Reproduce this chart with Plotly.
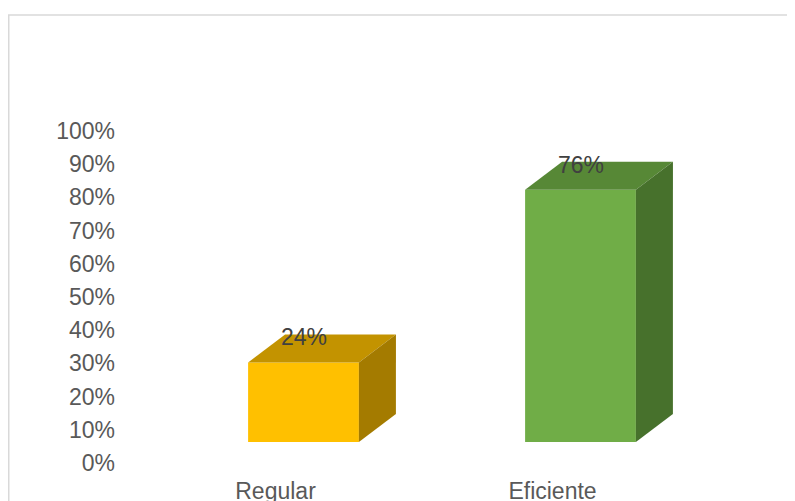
import plotly.graph_objects as go

categories = ["Regular", "Eficiente"]
values = [0.24, 0.76]
value_labels = ["24%", "76%"]

front_colors = ["#FFC000", "#70AD47"]
top_colors = ["#C39300", "#578836"]
side_colors = ["#A47B00", "#47712C"]

# style constants (3D look)
FLOOR = 0.063      # front face sits above the floor
HALF_W = 0.2       # half bar width in category units
DX = 0.1336        # depth offset in x units
DY = 0.0843        # depth offset in y units

fig = go.Figure()
xs = list(range(len(categories)))

fig.add_trace(go.Bar(
    x=xs, y=values, base=[FLOOR] * len(values), width=2 * HALF_W,
    marker=dict(color=front_colors, line=dict(width=0)),
    hoverinfo="skip", showlegend=False,
))

for i, v in enumerate(values):
    x0, x1 = i - HALF_W, i + HALF_W
    top = FLOOR + v
    # top face
    fig.add_trace(go.Scatter(
        x=[x0, x1, x1 + DX, x0 + DX, x0],
        y=[top, top, top + DY, top + DY, top],
        fill="toself", fillcolor=top_colors[i], mode="lines",
        line=dict(width=0, color=top_colors[i]), hoverinfo="skip", showlegend=False,
    ))
    # side face
    fig.add_trace(go.Scatter(
        x=[x1, x1 + DX, x1 + DX, x1, x1],
        y=[FLOOR, FLOOR + DY, top + DY, top, FLOOR],
        fill="toself", fillcolor=side_colors[i], mode="lines",
        line=dict(width=0, color=side_colors[i]), hoverinfo="skip", showlegend=False,
    ))

annotations = [
    dict(x=i, y=FLOOR + v + DY, xref="x", yref="y", text=lab, showarrow=False,
         xanchor="center", yanchor="middle", yshift=-3,
         font=dict(family="Liberation Sans", size=23, color="#404040"))
    for i, (v, lab) in enumerate(zip(values, value_labels))
]

L, R, T, B = 108, 35, 123, 46
W, H = 795, 501
pw = W - L - R
ph = H - T - B
C0 = 295.5   # pixel of first category centre
UNIT = 277.0  # pixels per category

fig.update_layout(
    width=W, height=H,
    margin=dict(l=L, r=R, t=T, b=B, autoexpand=False),
    paper_bgcolor="white", plot_bgcolor="white",
    font=dict(family="Liberation Sans", size=23, color="#595959"),
    xaxis=dict(
        range=[(L - C0) / UNIT, (L + pw - C0) / UNIT],
        tickvals=[x - 0.101 for x in xs], ticktext=categories,
        showgrid=False, zeroline=False, showline=False, ticks="",
        ticklabelstandoff=12, automargin=False,
    ),
    yaxis=dict(
        range=[0, 1.0001], tickvals=[i / 10 for i in range(11)],
        tickformat=".0%", showgrid=False, zeroline=False, showline=False,
        ticks="", automargin=False,
    ),
    annotations=annotations,
    shapes=[dict(
        type="rect", xref="paper", yref="paper",
        x0=(0.75 - L) / pw, x1=1.5, y0=-0.5, y1=(H - B - 7) / ph,
        line=dict(color="#D9D9D9", width=1.5), fillcolor="rgba(0,0,0,0)",
        layer="below",
    )],
)

fig.write_html("out.html")
